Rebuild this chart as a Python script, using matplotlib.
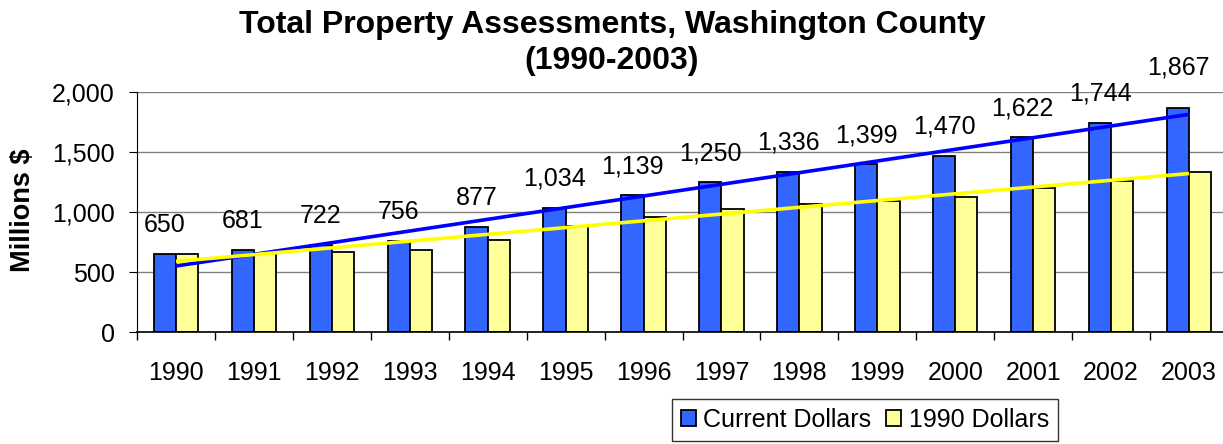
import numpy as np
import matplotlib
matplotlib.use("Agg")
import matplotlib.pyplot as plt
from matplotlib.ticker import FuncFormatter

plt.rcParams['font.family'] = ['Liberation Sans', 'DejaVu Sans']

years = ['1990', '1991', '1992', '1993', '1994', '1995', '1996',
         '1997', '1998', '1999', '2000', '2001', '2002', '2003']
current = [650, 681, 722, 756, 877, 1034, 1139, 1250, 1336, 1399, 1470, 1622, 1744, 1867]
dollars_1990 = [650, 655, 669, 683, 767, 886, 956, 1022, 1069, 1094, 1122, 1197, 1261, 1333]
series_names = ['Current Dollars', '1990 Dollars']
title_lines = ['Total Property Assessments, Washington County', '(1990-2003)']
ylabel = 'Millions $'

W, H = 1223, 444
fig = plt.figure(figsize=(W / 100, H / 100), dpi=100)
left, right, top, bottom = 137, 1228, 92, 332
ax = fig.add_axes([left / W, 1 - bottom / H, (right - left) / W, (bottom - top) / H])

x = np.arange(len(years))
bw = 0.285
ax.bar(x - bw / 2, current, bw, color='#3366FF', edgecolor='black', linewidth=1.3,
       label=series_names[0], zorder=2)
ax.bar(x + bw / 2, dollars_1990, bw, color='#FFFF99', edgecolor='black', linewidth=1.3,
       label=series_names[1], zorder=2)

# linear trend lines
for vals, col in [(current, '#0000FF'), (dollars_1990, '#FFFF00')]:
    p = np.polyfit(x, vals, 1)
    ax.plot(x, np.polyval(p, x), color=col, linewidth=2.6, zorder=3,
            solid_capstyle='butt')

# data labels
for i, v in enumerate(current):
    off = 40 if i == len(current) - 1 else 29
    ax.annotate(f'{v:,}', (x[i] - bw / 2, v), xytext=(0, off * 0.72),
                textcoords='offset points', ha='center', va='center',
                fontsize=18, zorder=4, annotation_clip=False)

ax.set_xlim(-0.5, len(years) - 0.5)
ax.set_ylim(0, 2000)
ax.set_yticks([0, 500, 1000, 1500, 2000])
ax.yaxis.set_major_formatter(FuncFormatter(lambda v, p: f'{int(v):,}'))
ax.grid(axis='y', color='#808080', linewidth=1.0, zorder=0)
ax.set_axisbelow(True)
for s in ['top', 'right']:
    ax.spines[s].set_visible(False)
ax.spines['left'].set_color('black')
ax.spines['bottom'].set_color('black')
ax.spines['bottom'].set_linewidth(1.2)

ax.set_xticks(x)
ax.set_xticklabels(years)
ax.set_xticks(np.arange(-0.5, len(years), 1), minor=True)
ax.tick_params(axis='x', which='major', length=0, labelsize=18, pad=21)
ax.tick_params(axis='x', which='minor', length=6, width=1, color='black', direction='out')
ax.tick_params(axis='y', length=6, color='black', labelsize=18, pad=10)

fig.text(23 / W, 1 - 210 / H, ylabel, rotation=90, ha='center', va='center',
         fontsize=19.5, fontweight='bold')

fig.text(612 / W, 1 - 25 / H, title_lines[0], ha='center', va='center', fontsize=23,
         fontweight='bold')
fig.text(612 / W, 1 - 61 / H, title_lines[1], ha='center', va='center', fontsize=23,
         fontweight='bold')

leg = fig.legend(loc='center', bbox_to_anchor=(865 / W, 1 - 420 / H), ncol=2,
                 fontsize=18, frameon=True, fancybox=False, edgecolor='black',
                 handlelength=0.6, handleheight=0.6, handletextpad=0.3,
                 columnspacing=0.6, borderpad=0.35)
leg.get_frame().set_linewidth(1.0)

fig.savefig('out.png', dpi=100)
